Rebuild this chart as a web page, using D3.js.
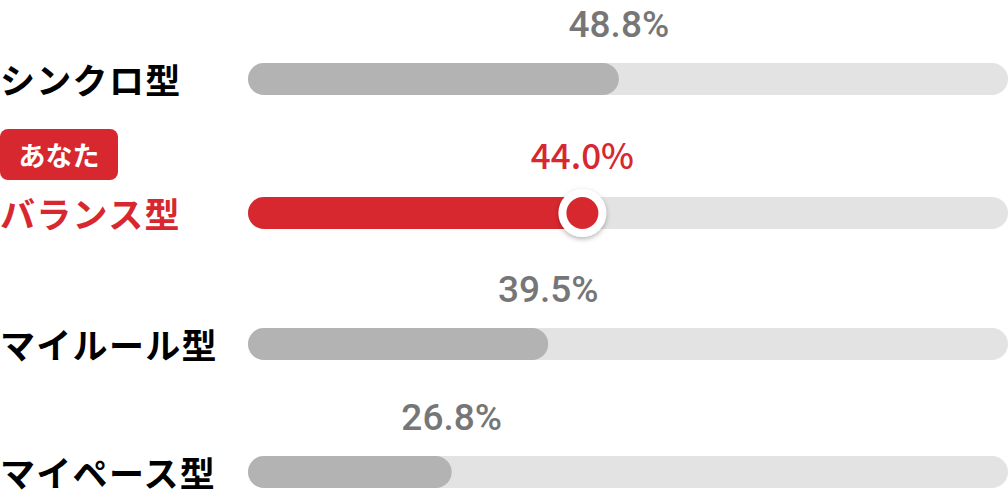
<!DOCTYPE html>
<html>
<head>
<meta charset="utf-8">
<script src="https://cdn.jsdelivr.net/npm/d3@7"></script>
<style>
  body { margin: 0; background: #fff; }
  svg { display: block; }
</style>
</head>
<body>
<svg width="1008" height="495"></svg>
<script>
var types = ['シンクロ型', 'バランス型', 'マイルール型', 'マイペース型'];
var percents = [48.8, 44.0, 39.5, 26.8];
var youType = 'バランス型';
var badgeText = 'あなた';

var width = 1008, height = 495;
var trackLeft = 248, trackRight = 1008, barH = 32;
var red = '#d7282f', grey = '#b3b3b3', track = '#e3e3e3', greyText = '#767676';

var svg = d3.select('svg');

var x = d3.scaleLinear().domain([0, 100]).range([trackLeft, trackRight]);
// rows are a bit uneven in the original, the badge row is taller
var y = d3.scaleOrdinal().domain(types).range([79, 213, 344, 472]);

var defs = svg.append('defs');
var f = defs.append('filter').attr('id', 'shadow').attr('x', '-50%').attr('y', '-50%').attr('width', '200%').attr('height', '200%');
f.append('feDropShadow').attr('dx', 0).attr('dy', 2).attr('stdDeviation', 2.5).attr('flood-color', '#000').attr('flood-opacity', 0.3);

var rows = svg.selectAll('g.row')
  .data(types.map(function(t, i) { return { type: t, value: percents[i] }; }))
  .enter().append('g')
  .attr('class', 'row');

// background track
rows.append('rect')
  .attr('x', x(0))
  .attr('y', function(d) { return y(d.type) - barH / 2; })
  .attr('width', x(100) - x(0))
  .attr('height', barH)
  .attr('rx', barH / 2)
  .attr('fill', track);

// filled part
rows.append('rect')
  .attr('x', x(0))
  .attr('y', function(d) { return y(d.type) - barH / 2; })
  .attr('width', function(d) { return x(d.value) - x(0); })
  .attr('height', barH)
  .attr('rx', barH / 2)
  .attr('fill', function(d) { return d.type == youType ? red : grey; });

// category label
rows.append('text')
  .attr('x', 0)
  .attr('y', function(d) { return y(d.type) - 1; })
  .attr('dominant-baseline', 'central')
  .attr('font-family', '"Noto Sans CJK JP", sans-serif')
  .attr('font-weight', 700)
  .attr('font-size', 35)
  .attr('letter-spacing', 1.3)
  .attr('fill', function(d) { return d.type == youType ? red : '#000'; })
  .text(function(d) { return d.type; });

// value label
rows.append('text')
  .attr('x', function(d) { return x(d.value); })
  .attr('y', function(d) { return y(d.type) - (d.type == youType ? 44 : 42); })
  .attr('text-anchor', 'middle')
  .attr('font-family', function(d) { return d.type == youType ? '"Noto Sans CJK JP", sans-serif' : 'Roboto, sans-serif'; })
  .attr('font-weight', 500)
  .attr('font-size', function(d) { return d.type == youType ? 35 : 37; })
  .attr('fill', function(d) { return d.type == youType ? red : greyText; })
  .text(function(d) { return d3.format('.1f')(d.value) + '%'; });

// marker on "you" row
var you = rows.filter(function(d) { return d.type == youType; });
you.append('circle')
  .attr('cx', function(d) { return x(d.value); })
  .attr('cy', function(d) { return y(d.type); })
  .attr('r', 24)
  .attr('fill', '#fff')
  .attr('filter', 'url(#shadow)');
you.append('circle')
  .attr('cx', function(d) { return x(d.value); })
  .attr('cy', function(d) { return y(d.type); })
  .attr('r', 16)
  .attr('fill', red);

// badge
var badge = you.append('g')
  .attr('transform', function(d) { return 'translate(0,' + (y(d.type) - 84) + ')'; });
badge.append('rect')
  .attr('width', 118)
  .attr('height', 51)
  .attr('rx', 8)
  .attr('fill', red);
badge.append('text')
  .attr('x', 59)
  .attr('y', 25)
  .attr('text-anchor', 'middle')
  .attr('dominant-baseline', 'central')
  .attr('font-family', '"Noto Sans CJK JP", sans-serif')
  .attr('font-weight', 700)
  .attr('font-size', 27)
  .attr('fill', '#fff')
  .text(badgeText);
</script>
</body>
</html>
